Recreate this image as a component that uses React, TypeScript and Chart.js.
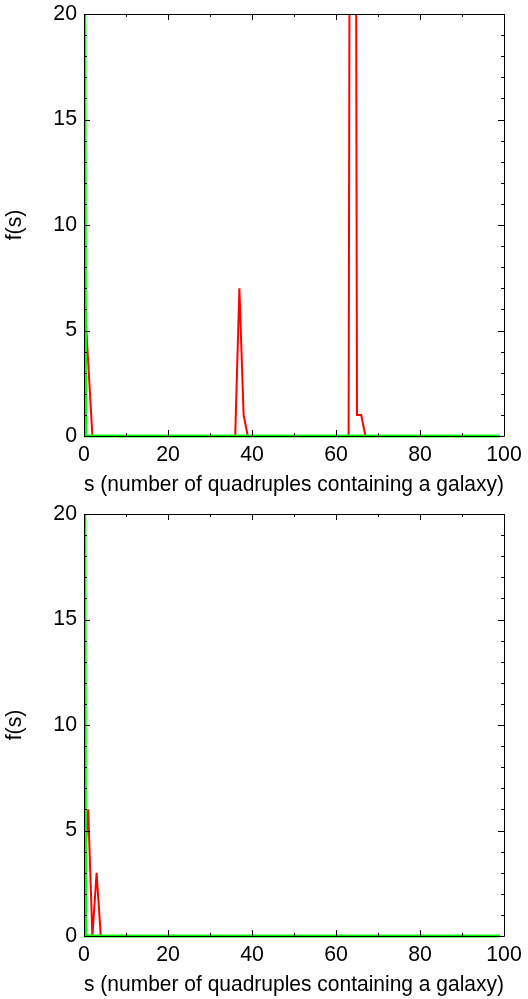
import React, { useEffect, useRef } from 'react';
import { Chart, registerables } from 'chart.js';

Chart.register(...registerables);

// s = number of quadruples containing a galaxy (0..99)
const S_VALUES: number[] = Array.from({ length: 100 }, (_, i) => i);
// the green (model) curve is sampled with one extra point just right of s = 0
const GREEN_S: number[] = [0, 0.4, ...S_VALUES.slice(1)];

const X_TICKS = [0, 20, 40, 60, 80, 100];
const Y_TICKS = [0, 5, 10, 15, 20];
const X_LABEL = 's (number of quadruples containing a galaxy)';
const Y_LABEL = 'f(s)';

// top panel (red on S_VALUES)
const TOP_RED = [
  7, 3.5, 0, 0, 0, 0, 0, 0, 0, 0,
  0, 0, 0, 0, 0, 0, 0, 0, 0, 0,
  0, 0, 0, 0, 0, 0, 0, 0, 0, 0,
  0, 0, 0, 0, 0, 0, 0, 7, 1, 0,
  0, 0, 0, 0, 0, 0, 0, 0, 0, 0,
  0, 0, 0, 0, 0, 0, 0, 0, 0, 0,
  0, 0, 0, 0, 100, 1, 1, 0, 0, 0,
  0, 0, 0, 0, 0, 0, 0, 0, 0, 0,
  0, 0, 0, 0, 0, 0, 0, 0, 0, 0,
  0, 0, 0, 0, 0, 0, 0, 0, 0, 0,
];
// top panel (green on GREEN_S: s = 0, 0.4, 1, 2, ... 99)
const TOP_GREEN = [
  40, 0,
  0, 0, 0, 0, 0, 0, 0, 0, 0,
  0, 0, 0, 0, 0, 0, 0, 0, 0, 0,
  0, 0, 0, 0, 0, 0, 0, 0, 0, 0,
  0, 0, 0, 0, 0, 0, 0, 0, 0, 0,
  0, 0, 0, 0, 0, 0, 0, 0, 0, 0,
  0, 0, 0, 0, 0, 0, 0, 0, 0, 0,
  0, 0, 0, 0, 0, 0, 0, 0, 0, 0,
  0, 0, 0, 0, 0, 0, 0, 0, 0, 0,
  0, 0, 0, 0, 0, 0, 0, 0, 0, 0,
  0, 0, 0, 0, 0, 0, 0, 0, 0, 0,
];

// bottom panel
const BOTTOM_RED = [
  3, 6, 0, 3, 0, 0, 0, 0, 0, 0,
  0, 0, 0, 0, 0, 0, 0, 0, 0, 0,
  0, 0, 0, 0, 0, 0, 0, 0, 0, 0,
  0, 0, 0, 0, 0, 0, 0, 0, 0, 0,
  0, 0, 0, 0, 0, 0, 0, 0, 0, 0,
  0, 0, 0, 0, 0, 0, 0, 0, 0, 0,
  0, 0, 0, 0, 0, 0, 0, 0, 0, 0,
  0, 0, 0, 0, 0, 0, 0, 0, 0, 0,
  0, 0, 0, 0, 0, 0, 0, 0, 0, 0,
  0, 0, 0, 0, 0, 0, 0, 0, 0, 0,
];
const BOTTOM_GREEN = [
  40, 0,
  0, 0, 0, 0, 0, 0, 0, 0, 0,
  0, 0, 0, 0, 0, 0, 0, 0, 0, 0,
  0, 0, 0, 0, 0, 0, 0, 0, 0, 0,
  0, 0, 0, 0, 0, 0, 0, 0, 0, 0,
  0, 0, 0, 0, 0, 0, 0, 0, 0, 0,
  0, 0, 0, 0, 0, 0, 0, 0, 0, 0,
  0, 0, 0, 0, 0, 0, 0, 0, 0, 0,
  0, 0, 0, 0, 0, 0, 0, 0, 0, 0,
  0, 0, 0, 0, 0, 0, 0, 0, 0, 0,
  0, 0, 0, 0, 0, 0, 0, 0, 0, 0,
];

const FONT_FAMILY = '"Liberation Sans", Arial, Helvetica, sans-serif';
const FONT_SIZE = 21.3;

const framePlugin = {
  id: 'matlabFrame',
  afterDraw(chart: any) {
    const { ctx, chartArea } = chart;
    const { left, right, top, bottom } = chartArea;
    const xs = chart.scales.x;
    const ys = chart.scales.y;
    ctx.save();
    ctx.strokeStyle = '#000';
    ctx.lineWidth = 1;
    ctx.beginPath();
    ctx.rect(Math.round(left) + 0.5, Math.round(top) + 0.5, Math.round(right - left), Math.round(bottom - top));
    ctx.stroke();
    ctx.beginPath();
    for (let v = xs.min; v <= xs.max; v += 10) {
      const px = Math.round(xs.getPixelForValue(v)) + 0.5;
      const len = v % 20 === 0 ? 6 : 3;
      ctx.moveTo(px, bottom);
      ctx.lineTo(px, bottom - len);
      ctx.moveTo(px, top);
      ctx.lineTo(px, top + len);
    }
    for (let v = ys.min; v <= ys.max; v += 1) {
      const py = Math.round(ys.getPixelForValue(v)) + 0.5;
      const len = v % 5 === 0 ? 6 : 3;
      ctx.moveTo(left, py);
      ctx.lineTo(left + len, py);
      ctx.moveTo(right, py);
      ctx.lineTo(right - len, py);
    }
    ctx.stroke();
    ctx.restore();
  },
};

function Panel({ red, green, height }: { red: number[]; green: number[]; height: number }) {
  const ref = useRef<HTMLCanvasElement | null>(null);
  useEffect(() => {
    if (!ref.current) return;
    const font = { family: FONT_FAMILY, size: FONT_SIZE };
    const clip = { left: 0, top: 0, right: 2, bottom: 3 };
    const chart = new Chart(ref.current, {
      type: 'line',
      data: {
        datasets: [
          {
            data: GREEN_S.map((s, i) => ({ x: s, y: green[i] })),
            borderColor: '#00ff00',
            borderWidth: 3,
            pointRadius: 0,
            tension: 0,
            fill: false,
            clip,
          },
          {
            data: S_VALUES.map((s, i) => ({ x: s, y: red[i] })),
            borderColor: '#ff0000',
            borderWidth: 2,
            pointRadius: 0,
            tension: 0,
            fill: false,
            clip,
          },
        ],
      },
      options: {
        responsive: false,
        animation: false,
        devicePixelRatio: 1,
        layout: { padding: { top: 14, right: 24, left: 0, bottom: 0 } },
        plugins: { legend: { display: false }, tooltip: { enabled: false } },
        scales: {
          x: {
            type: 'linear',
            min: 0,
            max: 100,
            grid: { display: false, drawTicks: false },
            border: { display: false },
            afterBuildTicks: (s: any) => {
              s.ticks = X_TICKS.map((v) => ({ value: v }));
            },
            afterFit: (s: any) => {
              s.height = 64;
              s.paddingLeft = 0;
              s.paddingRight = 0;
            },
            ticks: { color: '#000', font, padding: 6, maxRotation: 0, autoSkip: false },
            title: { display: true, text: X_LABEL, color: '#000', font, padding: { top: 0, bottom: 2 } },
          },
          y: {
            type: 'linear',
            min: 0,
            max: 20,
            grid: { display: false, drawTicks: false },
            border: { display: false },
            afterBuildTicks: (s: any) => {
              s.ticks = Y_TICKS.map((v) => ({ value: v }));
            },
            afterFit: (s: any) => {
              s.width = 84;
              s.paddingTop = 0;
              s.paddingBottom = 0;
            },
            ticks: { color: '#000', font, padding: 7, autoSkip: false },
            title: { display: true, text: Y_LABEL, color: '#000', font, padding: { top: 2, bottom: 0 } },
          },
        },
      },
      plugins: [framePlugin],
    } as any);
    return () => chart.destroy();
  }, [red, green]);
  return <canvas ref={ref} width={528} height={height} style={{ display: 'block', width: 528, height }} />;
}

export default function App() {
  return (
    <div
      style={{
        position: 'fixed',
        left: 0,
        top: 0,
        width: 528,
        height: 999,
        overflow: 'hidden',
        background: '#fff',
      }}
    >
      <Panel red={TOP_RED} green={TOP_GREEN} height={500} />
      <Panel red={BOTTOM_RED} green={BOTTOM_GREEN} height={500} />
    </div>
  );
}
